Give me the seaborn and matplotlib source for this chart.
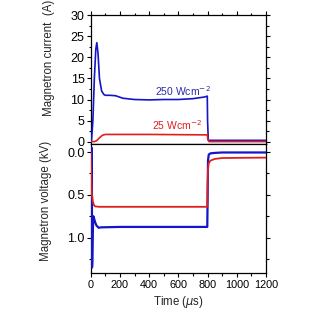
import matplotlib
matplotlib.use("Agg")
import matplotlib.pyplot as plt
import seaborn as sns
import pandas as pd
from matplotlib.ticker import MultipleLocator

sns.set_theme(style="ticks")
plt.rcParams['font.family'] = ['Liberation Sans', 'DejaVu Sans']

# ---- data ----
t_cur_blue = [0, 5, 15, 25, 35, 42, 50, 60, 75, 90, 100, 130, 170, 220, 300, 400, 500, 600, 700, 780, 798, 800, 805, 850, 1000, 1200]
i_blue     = [-0.3, 0, 5, 15, 22, 23.5, 21, 15, 12, 11.2, 11, 11, 10.9, 10.3, 10, 9.9, 10, 10, 10.2, 10.6, 10.8, 5, 0.3, 0.3, 0.3, 0.3]

t_cur_red = [0, 25, 40, 60, 80, 100, 200, 400, 600, 798, 802, 810, 1200]
i_red     = [0, 0, 0.2, 0.9, 1.5, 1.7, 1.7, 1.7, 1.65, 1.6, 0.5, 0, 0]

t_vol_blue = [8, 9, 11, 14, 18, 24, 30, 40, 55, 70, 200, 400, 600, 798, 800, 803, 808, 820, 850, 900, 1200]
v_blue     = [-0.05, 1.35, 1.3, 0.95, 0.75, 0.78, 0.82, 0.86, 0.885, 0.88, 0.875, 0.875, 0.875, 0.875, 0.6, 0.1, 0.03, 0.015, 0.01, 0.005, 0.005]

t_vol_red = [0, 4, 8, 11, 15, 22, 30, 60, 200, 400, 600, 798, 800, 803, 808, 820, 850, 900, 1000, 1200]
v_red     = [0, 0.3, 0.5, 0.52, 0.58, 0.62, 0.635, 0.64, 0.64, 0.64, 0.64, 0.64, 0.4, 0.2, 0.13, 0.1, 0.08, 0.07, 0.068, 0.065]

label_hi = "250 Wcm$^{-2}$"
label_lo = "25 Wcm$^{-2}$"
BLUE = "#1414c8"
RED = "#e01e1e"

fig = plt.figure(figsize=(3.2, 3.2), dpi=100)
L, R = 90.7 / 320, 266 / 320
ax1 = fig.add_axes([L, 1 - 143.5 / 320, R - L, (143.5 - 15.3) / 320])
ax2 = fig.add_axes([L, 1 - 273.3 / 320, R - L, (273.3 - 143.5) / 320])

sns.lineplot(x=t_cur_blue, y=i_blue, ax=ax1, color=BLUE, lw=1.2, estimator=None, sort=False, zorder=3)
sns.lineplot(x=t_cur_red, y=i_red, ax=ax1, color=RED, lw=1.2, estimator=None, sort=False, zorder=3)
sns.lineplot(x=t_vol_blue, y=v_blue, ax=ax2, color=BLUE, lw=1.6, estimator=None, sort=False, zorder=3)
sns.lineplot(x=t_vol_red, y=v_red, ax=ax2, color=RED, lw=1.3, estimator=None, sort=False, zorder=3)

for ax in (ax1, ax2):
    ax.set_xlim(0, 1200)
    ax.xaxis.set_major_locator(MultipleLocator(200))
    ax.xaxis.set_minor_locator(MultipleLocator(100))
    for s in ax.spines.values():
        s.set_linewidth(0.9)
        s.set_color("black")
    ax.tick_params(which="both", direction="out", width=0.8, colors="black", pad=1.5)
    ax.tick_params(axis="x", labelsize=7.8)
    ax.tick_params(axis="y", labelsize=9)
    ax.tick_params(which="major", length=3)
    ax.tick_params(which="minor", length=1.8)

ax1.set_ylim(-0.45, 30)
ax1.yaxis.set_major_locator(MultipleLocator(5))
ax1.yaxis.set_minor_locator(MultipleLocator(2.5))
ax1.tick_params(axis="x", which="both", bottom=False, labelbottom=False, top=True)
ax1.tick_params(axis="y", which="both", right=True)

ax2.set_ylim(1.417, -0.1)
ax2.yaxis.set_major_locator(MultipleLocator(0.5))
ax2.yaxis.set_minor_locator(MultipleLocator(0.25))
ax2.set_yticks([0.0, 0.5, 1.0])
ax2.set_yticklabels(["0.0", "0.5", "1.0"])
ax2.tick_params(axis="y", which="both", right=True)

ax1.set_ylabel("Magnetron current  (A)", fontsize=8.3)
ax1.yaxis.set_label_coords(-0.205, 0.67)
ax2.set_ylabel("Magnetron voltage (kV)", fontsize=8.3)
ax2.yaxis.set_label_coords(-0.222, 0.56)
ax2.set_xlabel("Time ($\\mu$s)", fontsize=8.3, labelpad=3)

ax1.text(440, 10.4, label_hi, color="#2a2aa8", fontsize=7.5, ha="left", va="bottom")
ax1.text(417, 2.4, label_lo, color=RED, fontsize=7.5, ha="left", va="bottom")

fig.savefig("out.png", dpi=100)
